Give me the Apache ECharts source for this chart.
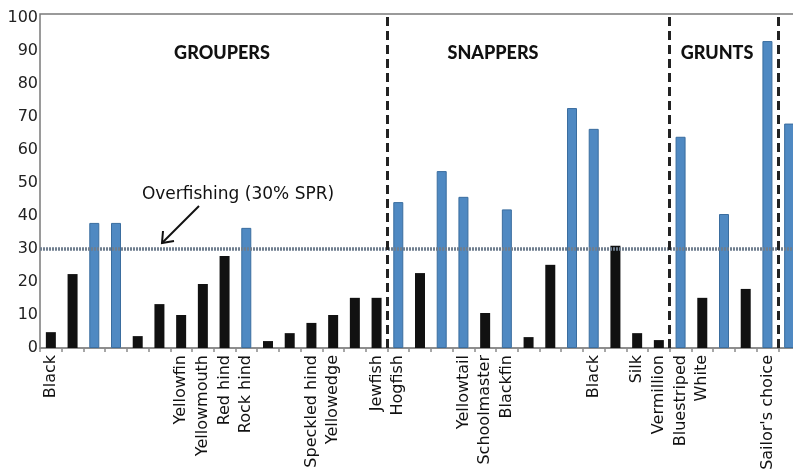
<!DOCTYPE html>
<html>
<head>
<meta charset="utf-8">
<script src="https://cdn.jsdelivr.net/npm/echarts@6/dist/echarts.min.js"></script>
<style>
  html, body { margin: 0; padding: 0; background: #fff; }
  #chart { width: 793px; height: 476px; }
</style>
</head>
<body>
<div id="chart"></div>
<script>
// ---- data ----
const labels = [
  'Black', '', '', '', '', '', 'Yellowfin', 'Yellowmouth', 'Red hind', 'Rock hind',
  '', '', 'Speckled hind', 'Yellowedge', '', 'Jewfish', 'Hogfish', '', '', 'Yellowtail',
  'Schoolmaster', 'Blackfin', '', '', '', 'Black', '', 'Silk', 'Vermillion', 'Bluestriped',
  'White', '', '', "Sailor's choice", ''
];
const values = [
  4.8, 22.4, 37.9, 37.9, 3.6, 13.3, 10, 19.4, 27.9, 36.4,
  2.1, 4.5, 7.6, 10, 15.2, 15.2, 44.2, 22.7, 53.6, 45.8,
  10.6, 42, 3.3, 25.2, 72.7, 66.4, 31, 4.5, 2.4, 64,
  15.2, 40.6, 17.9, 93, 68
];
// 1 = blue bar, 0 = black bar
const isBlue = [
  0, 0, 1, 1, 0, 0, 0, 0, 0, 1,
  0, 0, 0, 0, 0, 0, 1, 0, 1, 1,
  0, 1, 0, 0, 1, 1, 0, 0, 0, 1,
  0, 1, 0, 1, 1
];
const groupBoundaries = [16, 29, 34];
const yTicks = [0, 10, 20, 30, 40, 50, 60, 70, 80, 90, 100];
const threshold = 30;
const groupNames = ['GROUPERS', 'SNAPPERS', 'GRUNTS'];
const annotation = 'Overfishing (30% SPR)';

const categories = labels.map((l, i) => 'c' + i);

const chart = echarts.init(document.getElementById('chart'), null, { renderer: 'canvas' });

const headFont = '900 18px "Lato", "DejaVu Sans"';

const option = {
  animation: false,
  backgroundColor: '#fff',
  grid: {
    left: 40, top: 14, width: 760, height: 334,
    outerBoundsMode: 'none', containLabel: false,
    show: true, borderColor: '#7a7a7a', borderWidth: 1.5, backgroundColor: 'transparent'
  },
  xAxis: [
    {
      type: 'category',
      data: categories,
      axisLine: { show: true, lineStyle: { color: '#8a8a8a', width: 1.5 } },
      axisTick: { show: true, interval: 0, length: 4, lineStyle: { color: '#8a8a8a', width: 1.5 } },
      axisLabel: {
        interval: 0, rotate: 90, margin: 7,
        fontFamily: 'DejaVu Sans', fontSize: 16, color: '#111',
        formatter: (v, i) => labels[i]
      }
    },
    { type: 'value', min: 0, max: labels.length, show: false, gridIndex: 0 }
  ],
  yAxis: {
    type: 'value', min: 0, max: 101.2, interval: 10,
    axisLine: { show: false },
    axisTick: { show: false },
    splitLine: { show: false },
    axisLabel: {
      margin: 2, fontFamily: 'DejaVu Sans', fontSize: 16, color: '#222',
      formatter: v => (yTicks.indexOf(v) >= 0 ? String(v) : '')
    }
  },
  series: [
    {
      type: 'bar',
      xAxisIndex: 0,
      barWidth: 10,
      data: values.map((v, i) => ({
        value: v,
        itemStyle: isBlue[i]
          ? { color: '#4f89c2', borderColor: '#3a6d9f', borderWidth: 1 }
          : { color: '#111111' }
      })),
      markLine: {
        silent: true, symbol: 'none', label: { show: false },
        lineStyle: { type: [2, 1], color: '#6f7e8e', width: 3.5 },
        data: [{ yAxis: threshold }]
      }
    },
    {
      type: 'line',
      xAxisIndex: 1,
      data: [],
      markLine: {
        silent: true, symbol: 'none', label: { show: false },
        lineStyle: { type: [9, 5], color: '#222', width: 3 },
        data: groupBoundaries.map(b => ({ xAxis: b }))
      }
    }
  ],
  graphic: [
    { type: 'text', x: 222, y: 53, style: { text: groupNames[0], font: headFont, fill: '#111', align: 'center', verticalAlign: 'middle' } },
    { type: 'text', x: 493, y: 53, style: { text: groupNames[1], font: headFont, fill: '#111', align: 'center', verticalAlign: 'middle' } },
    { type: 'text', x: 717, y: 53, style: { text: groupNames[2], font: headFont, fill: '#111', align: 'center', verticalAlign: 'middle' } },
    { type: 'text', x: 238, y: 195, style: { text: annotation, font: '17px "DejaVu Sans"', fill: '#111', align: 'center', verticalAlign: 'middle' } },
    { type: 'polyline', shape: { points: [[199, 206], [162, 243]] }, style: { stroke: '#111', lineWidth: 2 } },
    { type: 'polyline', shape: { points: [[163, 231], [162, 243], [174, 241]] }, style: { stroke: '#111', lineWidth: 2, fill: null } }
  ]
};

chart.setOption(option);
</script>
</body>
</html>
